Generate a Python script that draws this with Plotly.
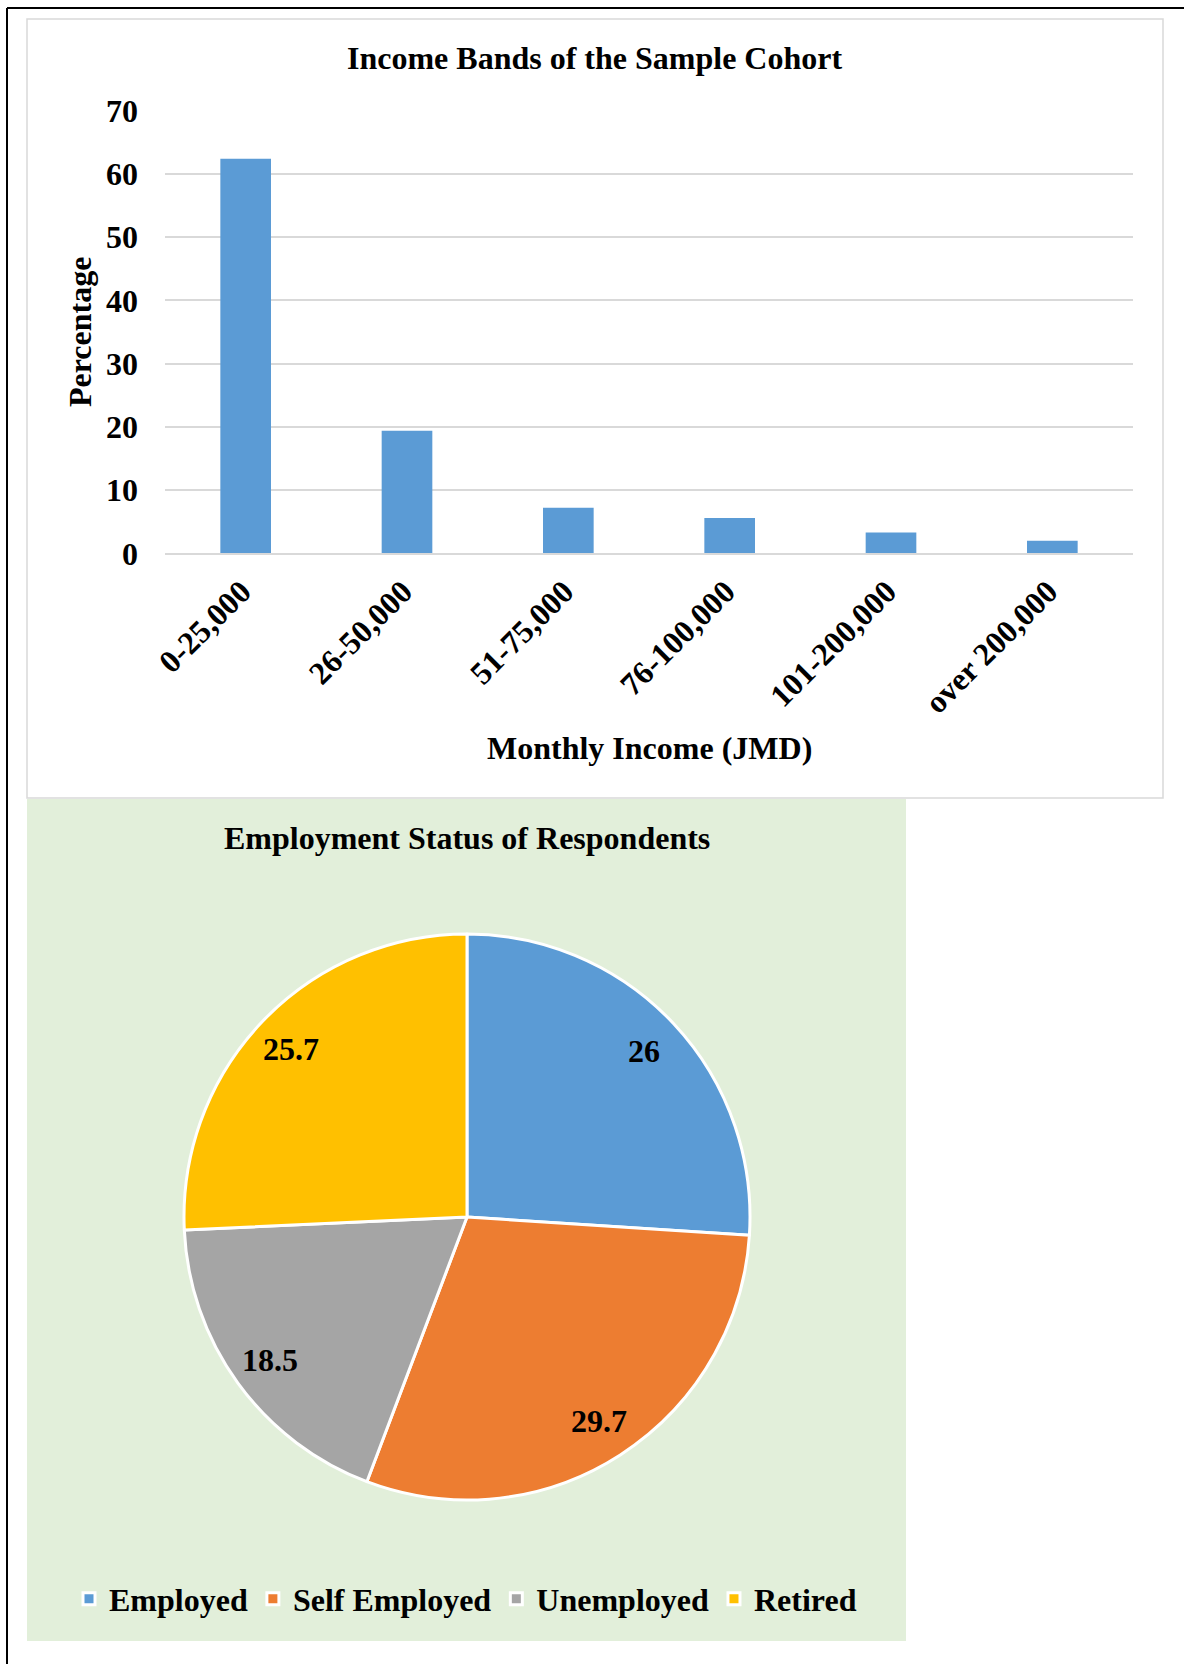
import math
import plotly.graph_objects as go

# ---------------- data ----------------
income_bands = ["0-25,000", "26-50,000", "51-75,000", "76-100,000", "101-200,000", "over 200,000"]
income_pct = [62.4, 19.4, 7.2, 5.6, 3.3, 2.0]
y_tick_vals = [0, 10, 20, 30, 40, 50, 60, 70]

emp_labels = ["Employed", "Self Employed", "Unemployed", "Retired"]
emp_values = [26, 29.7, 18.5, 25.7]

bar_title = "Income Bands of the Sample Cohort"
pie_title = "Employment Status of Respondents"
x_title = "Monthly Income (JMD)"
y_title = "Percentage"

# ---------------- styles ----------------
bar_color = "#5B9BD5"
emp_colors = ["#5B9BD5", "#ED7D31", "#A5A5A5", "#FFC000"]
grid_color = "#D9D9D9"
green_bg = "#E2EFDA"
FONT = "Liberation Serif, Times New Roman, serif"
FS = 32

W, H = 1184, 1664


def px(x):
    return x / W


def py(y):
    return 1 - y / H


fig = go.Figure()

fig.add_trace(go.Bar(
    x=income_bands, y=income_pct, marker=dict(color=bar_color, line=dict(width=0)),
    showlegend=False, xaxis="x", yaxis="y", hoverinfo="x+y",
))

cx, cy, R = 467, 1217, 283
fig.add_trace(go.Pie(
    labels=emp_labels, values=emp_values, sort=False, direction="clockwise", rotation=0,
    marker=dict(colors=emp_colors, line=dict(color="white", width=3)),
    textinfo="none", hoverinfo="label+value", automargin=False,
    domain=dict(x=[px(cx - R), px(cx + R)], y=[py(cy + R), py(cy - R)]),
))

bold = dict(family=FONT, size=FS, color="black", weight="bold")

annotations = [
    dict(x=px(594), y=py(58), text=bar_title),
    dict(x=px(467), y=py(838), text=pie_title),
    dict(x=px(649), y=py(748), text=x_title),
    dict(x=px(80), y=py(332), text=y_title, textangle=-90),
]

total = sum(emp_values)
cum = 0.0
for v in emp_values:
    mid = (cum + v / 2) / total * 2 * math.pi
    cum += v
    lx = cx + 0.858 * R * math.sin(mid)
    ly = cy - 0.858 * R * math.cos(mid)
    annotations.append(dict(x=px(lx), y=py(ly), text=f"{v:g}"))

for a in annotations:
    a.update(xref="paper", yref="paper", showarrow=False, font=bold,
             xanchor="center", yanchor="middle")

shapes = [
    # bar panel
    dict(type="rect", xref="paper", yref="paper", x0=px(27), x1=px(1163), y0=py(798), y1=py(19),
         fillcolor="white", line=dict(color=grid_color, width=1.5), layer="below"),
    # pie panel
    dict(type="rect", xref="paper", yref="paper", x0=px(27), x1=px(906), y0=py(1641), y1=py(799),
         fillcolor=green_bg, line=dict(width=0), layer="below"),
    # outer black lines (top & left)
    dict(type="line", xref="paper", yref="paper", x0=px(7), x1=px(1184), y0=py(8), y1=py(8),
         line=dict(color="black", width=2)),
    dict(type="line", xref="paper", yref="paper", x0=px(7), x1=px(7), y0=py(8), y1=py(1664),
         line=dict(color="black", width=2)),
]

fig.update_layout(
    width=W, height=H, autosize=False,
    margin=dict(l=0, r=0, t=0, b=0, autoexpand=False),
    paper_bgcolor="white", plot_bgcolor="rgba(0,0,0,0)",
    bargap=0.686,
    xaxis=dict(domain=[px(165), px(1133)], anchor="y", showgrid=False, showline=True,
               linecolor=grid_color, linewidth=1.5, tickangle=-45, tickfont=bold,
               ticks="", fixedrange=True, automargin=False,
               ticklabelstandoff=5, ticklabelshift=-4),
    yaxis=dict(domain=[py(553.3), py(110.7)], anchor="x", range=[0, 70], tickvals=y_tick_vals,
               showgrid=True, gridcolor=grid_color, gridwidth=1.5, zeroline=False,
               showline=False, tickfont=bold, ticks="", ticklabelstandoff=26, fixedrange=True,
               automargin=False),
    showlegend=True,
    legend=dict(orientation="h", x=px(69), xanchor="left", y=py(1599), yanchor="middle",
                font=bold, bgcolor="rgba(0,0,0,0)", traceorder="normal"),
    annotations=annotations,
    shapes=shapes,
)

fig.write_html("out.html")
